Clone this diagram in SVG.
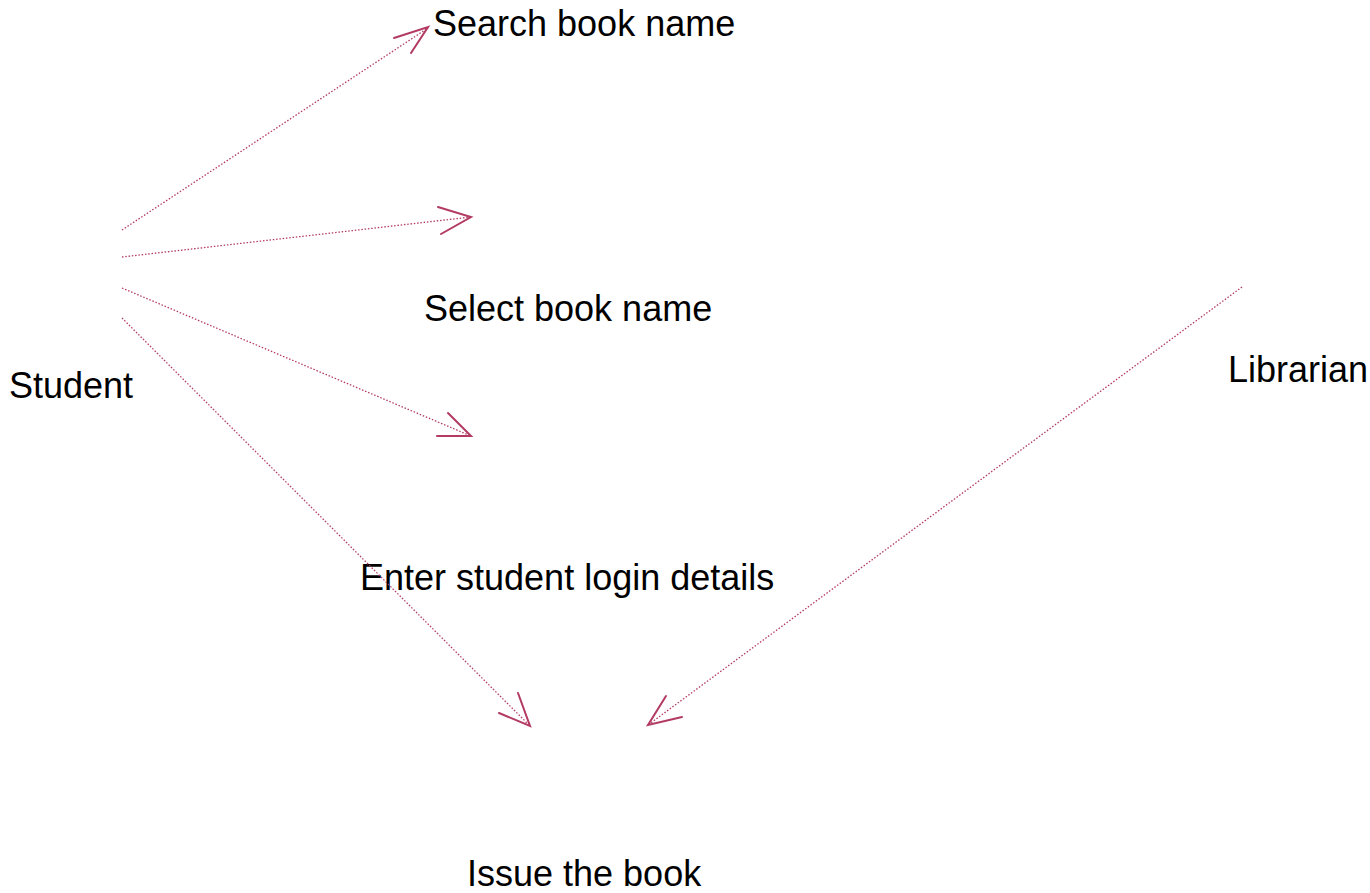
<svg xmlns="http://www.w3.org/2000/svg" width="1370" height="893" viewBox="0 0 1370 893">
  <style>
    .lbl { font-family: "Liberation Sans", Arial, sans-serif; font-size: 36px; fill: #000; }
    .flow { fill: none; stroke: #b23a63; stroke-width: 1.3; stroke-dasharray: 1.5 1.8; }
    .head { fill: none; stroke: #b23a63; stroke-width: 2; stroke-linecap: round; }
  </style>
  <rect width="1370" height="893" fill="#fff"/>

  <g id="student"><text class="lbl" x="9" y="398">Student</text></g>
  <g id="librarian"><text class="lbl" x="1228" y="382">Librarian</text></g>
  <g id="search-book-name"><text class="lbl" x="433" y="36">Search book name</text></g>
  <g id="select-book-name"><text class="lbl" x="424" y="321">Select book name</text></g>
  <g id="enter-login-details"><text class="lbl" x="360" y="590">Enter student login details</text></g>
  <g id="issue-book"><text class="lbl" x="467" y="886">Issue the book</text></g>

  <g id="connectors">
    <line class="flow" x1="122" y1="230" x2="428" y2="28"/>
    <polyline class="head" points="394,38 428,27 411,53"/>

    <line class="flow" x1="122" y1="257" x2="471" y2="217"/>
    <polyline class="head" points="438,207 471,217 441,234"/>

    <line class="flow" x1="122" y1="288" x2="471" y2="436"/>
    <polyline class="head" points="448,413 471,436 437,436"/>

    <line class="flow" x1="122" y1="318" x2="530" y2="726"/>
    <polyline class="head" points="518,693 530,726 499,713"/>

    <line class="flow" x1="1242" y1="287" x2="648" y2="725"/>
    <polyline class="head" points="666,696 648,725 682,717"/>
  </g>
</svg>
